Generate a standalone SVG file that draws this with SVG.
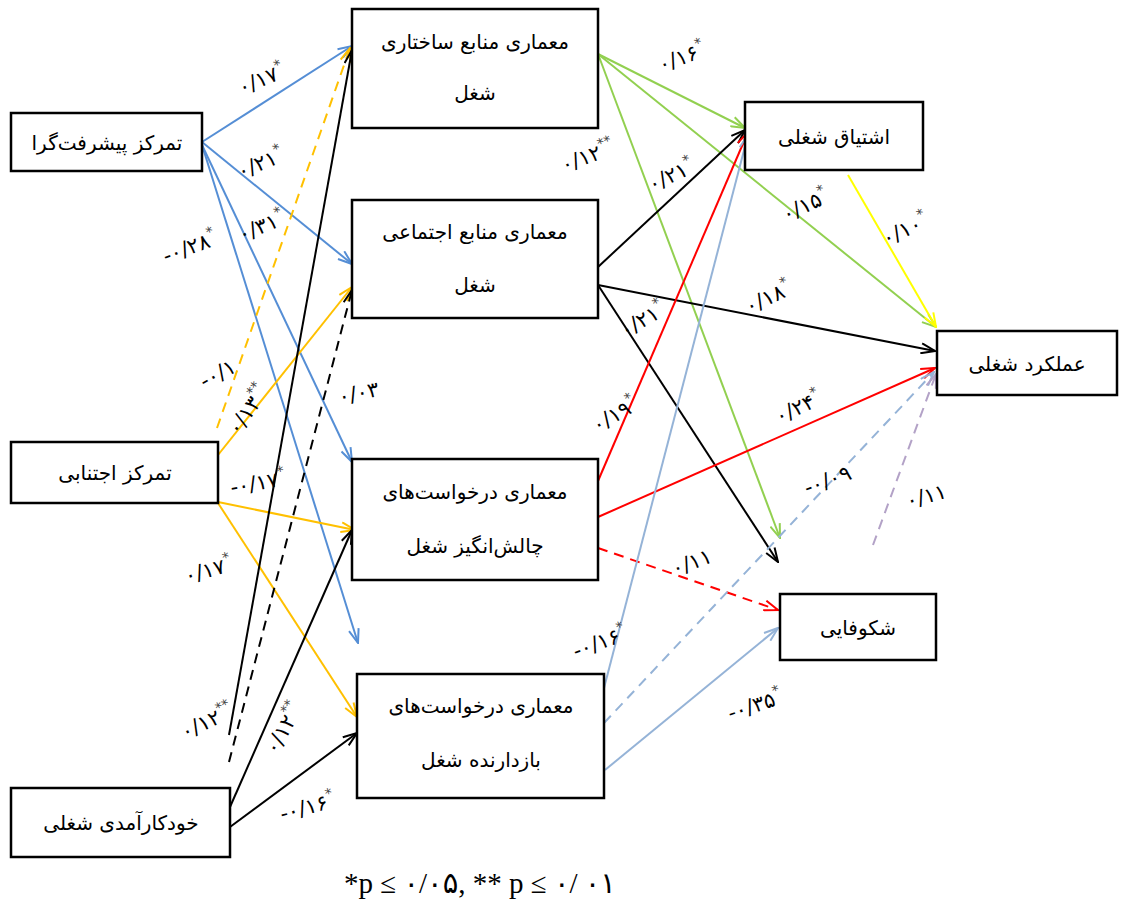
<svg xmlns="http://www.w3.org/2000/svg" width="1125" height="902" viewBox="0 0 1125 902">
<style>
.n{fill:#fff;stroke:#000;stroke-width:2.5}
.t{font-family:"DejaVu Sans",sans-serif;font-size:20px;fill:#000;text-anchor:middle}
.c{fill:none;stroke-width:2}
.d{stroke-dasharray:10,7}
.lb{font-family:"DejaVu Sans",sans-serif;font-size:21px;fill:#000;text-anchor:middle}
.s{font-size:14px;fill:#444}
.bl{stroke:#558ED5}.ye{stroke:#FFC000}.bk{stroke:#000}.gr{stroke:#92D050}.rd{stroke:#FF0000}.lbl{stroke:#95B3D7}.y2{stroke:#FFFF00}.pu{stroke:#B3A2C7}
.foot{font-family:"Liberation Serif","DejaVu Sans",serif;font-size:29px;fill:#000;text-anchor:middle}
</style>
<defs>
<marker id="aBl" viewBox="0 0 16 12" refX="15" refY="6" markerWidth="16" markerHeight="12" markerUnits="userSpaceOnUse" orient="auto"><path d="M1,1 L15,6 L1,11" fill="none" stroke="#558ED5" stroke-width="2"/></marker>
<marker id="aYe" viewBox="0 0 16 12" refX="15" refY="6" markerWidth="16" markerHeight="12" markerUnits="userSpaceOnUse" orient="auto"><path d="M1,1 L15,6 L1,11" fill="none" stroke="#FFC000" stroke-width="2"/></marker>
<marker id="aBk" viewBox="0 0 16 12" refX="15" refY="6" markerWidth="16" markerHeight="12" markerUnits="userSpaceOnUse" orient="auto"><path d="M1,1 L15,6 L1,11" fill="none" stroke="#000" stroke-width="2"/></marker>
<marker id="aGr" viewBox="0 0 16 12" refX="15" refY="6" markerWidth="16" markerHeight="12" markerUnits="userSpaceOnUse" orient="auto"><path d="M1,1 L15,6 L1,11" fill="none" stroke="#92D050" stroke-width="2"/></marker>
<marker id="aRd" viewBox="0 0 16 12" refX="15" refY="6" markerWidth="16" markerHeight="12" markerUnits="userSpaceOnUse" orient="auto"><path d="M1,1 L15,6 L1,11" fill="none" stroke="#FF0000" stroke-width="2"/></marker>
<marker id="aLb" viewBox="0 0 16 12" refX="15" refY="6" markerWidth="16" markerHeight="12" markerUnits="userSpaceOnUse" orient="auto"><path d="M1,1 L15,6 L1,11" fill="none" stroke="#95B3D7" stroke-width="2"/></marker>
<marker id="aY2" viewBox="0 0 16 12" refX="15" refY="6" markerWidth="16" markerHeight="12" markerUnits="userSpaceOnUse" orient="auto"><path d="M1,1 L15,6 L1,11" fill="none" stroke="#FFFF00" stroke-width="2"/></marker>
<marker id="aPu" viewBox="0 0 16 12" refX="15" refY="6" markerWidth="16" markerHeight="12" markerUnits="userSpaceOnUse" orient="auto"><path d="M1,1 L15,6 L1,11" fill="none" stroke="#B3A2C7" stroke-width="2"/></marker>
</defs>
<g id="connectors">
<line class="c bl" x1="202" y1="142" x2="352" y2="46" marker-end="url(#aBl)"/>
<line class="c bl" x1="202" y1="142" x2="352" y2="264" marker-end="url(#aBl)"/>
<line class="c bl" x1="202" y1="145" x2="352" y2="462" marker-end="url(#aBl)"/>
<line class="c bl" x1="202" y1="145" x2="358" y2="643" marker-end="url(#aBl)"/>
<line class="c ye d" x1="217" y1="428" x2="350" y2="48" marker-end="url(#aYe)"/>
<line class="c ye" x1="218" y1="455" x2="352" y2="287" marker-end="url(#aYe)"/>
<line class="c ye" x1="218" y1="502" x2="355" y2="530" marker-end="url(#aYe)"/>
<line class="c ye" x1="218" y1="503" x2="357" y2="717" marker-end="url(#aYe)"/>
<line class="c bk" x1="229" y1="735" x2="352" y2="50" marker-end="url(#aBk)"/>
<line class="c bk d" x1="229" y1="762" x2="352" y2="290" marker-end="url(#aBk)"/>
<line class="c bk" x1="230" y1="807" x2="352" y2="530" marker-end="url(#aBk)"/>
<line class="c bk" x1="230" y1="827" x2="357" y2="733" marker-end="url(#aBk)"/>
<line class="c gr" x1="598" y1="54" x2="745" y2="128" marker-end="url(#aGr)"/>
<line class="c gr" x1="598" y1="54" x2="936" y2="327" marker-end="url(#aGr)"/>
<line class="c gr" x1="598" y1="54" x2="780" y2="538" marker-end="url(#aGr)"/>
<line class="c bk" x1="598" y1="267" x2="745" y2="130" marker-end="url(#aBk)"/>
<line class="c bk" x1="598" y1="285" x2="935" y2="351" marker-end="url(#aBk)"/>
<line class="c bk" x1="598" y1="285" x2="778" y2="562" marker-end="url(#aBk)"/>
<line class="c rd" x1="598" y1="481" x2="748" y2="132" marker-end="url(#aRd)"/>
<line class="c rd" x1="598" y1="517" x2="935" y2="368" marker-end="url(#aRd)"/>
<line class="c rd d" x1="598" y1="548" x2="778" y2="610" marker-end="url(#aRd)"/>
<line class="c lbl" x1="604" y1="688" x2="748" y2="135" marker-end="url(#aLb)"/>
<line class="c lbl d" x1="604" y1="723" x2="934" y2="372" marker-end="url(#aLb)"/>
<line class="c lbl" x1="605" y1="770" x2="778" y2="628" marker-end="url(#aLb)"/>
<line class="c y2" x1="848" y1="175" x2="936" y2="327" marker-end="url(#aY2)"/>
<line class="c pu d" x1="873" y1="545" x2="936" y2="374" marker-end="url(#aPu)"/>

<text class="lb" transform="translate(264,86) rotate(-22)">۰/۱۷<tspan class="s" dy="-10">*</tspan></text>
<text class="lb" transform="translate(263,170) rotate(-22)">۰/۲۱<tspan class="s" dy="-10">*</tspan></text>
<text class="lb" transform="translate(264,233) rotate(-22)">۰/۳۱<tspan class="s" dy="-10">*</tspan></text>
<text class="lb" transform="translate(192,254) rotate(-20)">-۰/۲۸<tspan class="s" dy="-10">*</tspan></text>
<text class="lb" transform="translate(221,380) rotate(-28)">-۰/۱</text>
<text class="lb" transform="translate(254,414) rotate(-55)">۰/۱۳<tspan class="s" dy="-10">**</tspan></text>
<text class="lb" transform="translate(259,490) rotate(-10)">-۰/۱۷<tspan class="s" dy="-10">*</tspan></text>
<text class="lb" transform="translate(210,577) rotate(-15)">۰/۱۷<tspan class="s" dy="-10">*</tspan></text>
<text class="lb" transform="translate(210,728) rotate(-25)">۰/۱۲<tspan class="s" dy="-10">**</tspan></text>
<text class="lb" transform="translate(290,732) rotate(-60)">۰/۱۲<tspan class="s" dy="-10">**</tspan></text>
<text class="lb" transform="translate(309,814) rotate(-15)">-۰/۱۶<tspan class="s" dy="-10">*</tspan></text>
<text class="lb" transform="translate(360,400) rotate(-12)">۰/۰۳</text>
<text class="lb" transform="translate(684,64) rotate(-20)">۰/۱۶<tspan class="s" dy="-10">*</tspan></text>
<text class="lb" transform="translate(590,163) rotate(-20)">۰/۱۲<tspan class="s" dy="-10">**</tspan></text>
<text class="lb" transform="translate(674,182) rotate(-25)">۰/۲۱<tspan class="s" dy="-10">*</tspan></text>
<text class="lb" transform="translate(808,212) rotate(-25)">۰/۱۵<tspan class="s" dy="-10">*</tspan></text>
<text class="lb" transform="translate(908,236) rotate(-25)">۰/۱۰<tspan class="s" dy="-10">*</tspan></text>
<text class="lb" transform="translate(771,304) rotate(-25)">۰/۱۸<tspan class="s" dy="-10">*</tspan></text>
<text class="lb" transform="translate(646,326) rotate(-30)">۰/۲۱<tspan class="s" dy="-10">*</tspan></text>
<text class="lb" transform="translate(618,421) rotate(-30)">۰/۱۹<tspan class="s" dy="-10">*</tspan></text>
<text class="lb" transform="translate(801,414) rotate(-25)">۰/۲۴<tspan class="s" dy="-10">*</tspan></text>
<text class="lb" transform="translate(830,487) rotate(-20)">-۰/۰۹</text>
<text class="lb" transform="translate(694,569) rotate(-20)">۰/۱۱</text>
<text class="lb" transform="translate(602,649) rotate(-20)">-۰/۱۶<tspan class="s" dy="-10">*</tspan></text>
<text class="lb" transform="translate(757,712) rotate(-18)">-۰/۳۵<tspan class="s" dy="-10">*</tspan></text>
<text class="lb" transform="translate(928,503) rotate(-15)">۰/۱۱</text>
</g>
<g id="n1"><rect class="n" x="11" y="113" width="191" height="58"/><text class="t" x="107" y="150">تمرکز پیشرفت‌گرا</text></g>
<g id="n2"><rect class="n" x="11" y="442" width="207" height="61"/><text class="t" x="115" y="480">تمرکز اجتنابی</text></g>
<g id="n3"><rect class="n" x="11" y="788" width="219" height="69"/><text class="t" x="121" y="830">خودکارآمدی شغلی</text></g>
<g id="m1"><rect class="n" x="352" y="9" width="246" height="119"/><text class="t" x="475" y="49">معماری منابع ساختاری</text><text class="t" x="475" y="100">شغل</text></g>
<g id="m2"><rect class="n" x="352" y="200" width="246" height="118"/><text class="t" x="475" y="239">معماری منابع اجتماعی</text><text class="t" x="475" y="292">شغل</text></g>
<g id="m3"><rect class="n" x="352" y="459" width="246" height="121"/><text class="t" x="475" y="499">معماری درخواست‌های</text><text class="t" x="475" y="553">چالش‌انگیز شغل</text></g>
<g id="m4"><rect class="n" x="357" y="674" width="247" height="124"/><text class="t" x="481" y="713">معماری درخواست‌های</text><text class="t" x="481" y="767">بازدارنده شغل</text></g>
<g id="o1"><rect class="n" x="745" y="102" width="178" height="68"/><text class="t" x="834" y="144">اشتیاق شغلی</text></g>
<g id="o2"><rect class="n" x="937" y="331" width="180" height="64"/><text class="t" x="1027" y="371">عملکرد شغلی</text></g>
<g id="o3"><rect class="n" x="780" y="594" width="156" height="66"/><text class="t" x="858" y="635">شکوفایی</text></g>
<text class="foot" x="480" y="893">*p ≤ ۰/۰۵, ** p ≤ ۰/ ۰۱</text>
</svg>
